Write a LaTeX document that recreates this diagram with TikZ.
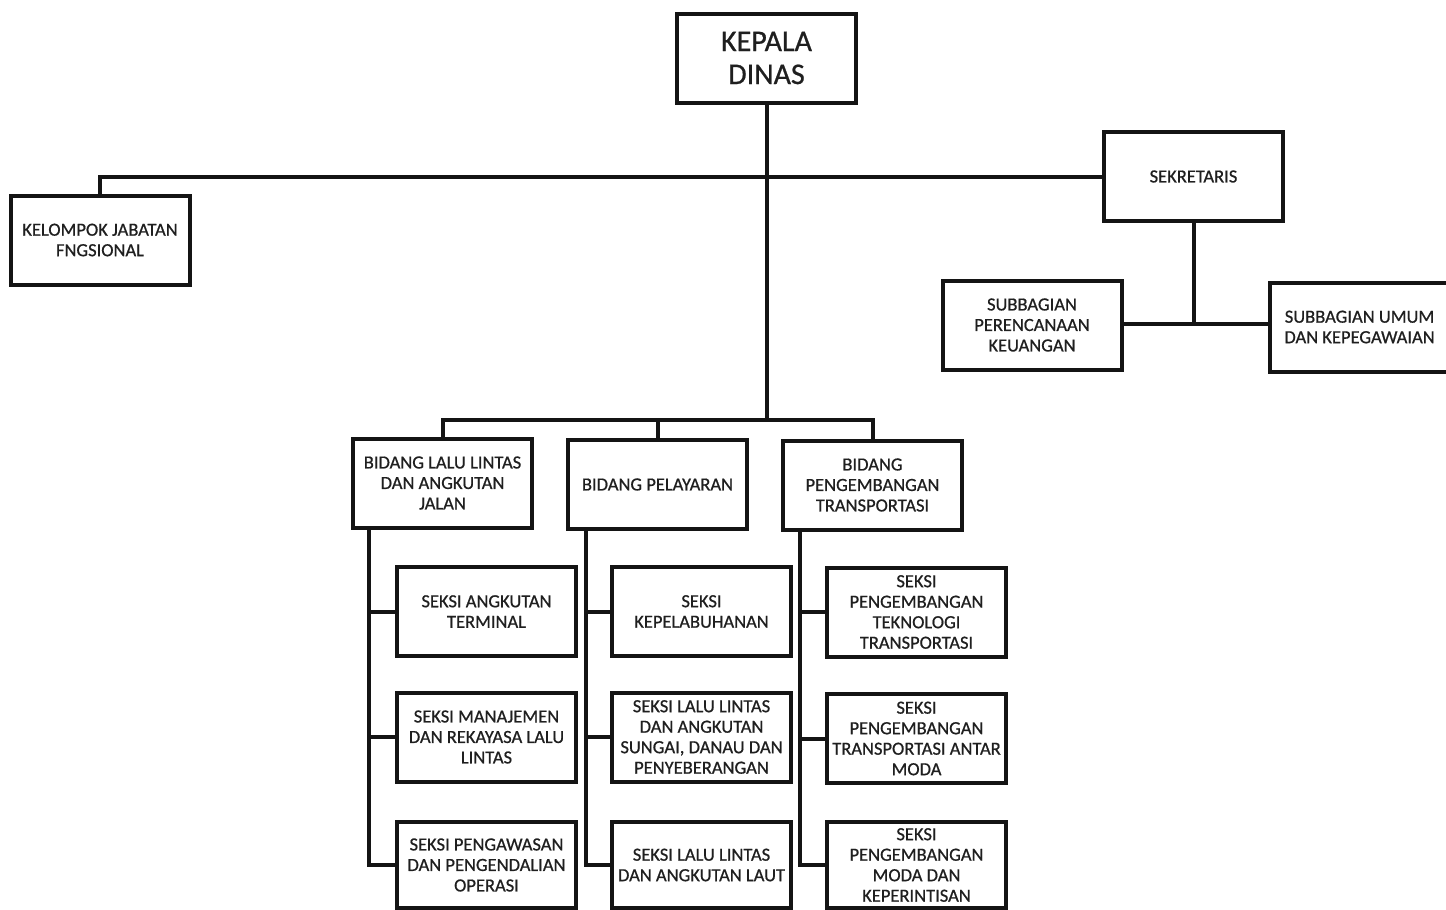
\documentclass[tikz,border=0pt]{standalone}
\usepackage{fontspec}
\setmainfont{Carlito}[FakeBold=0.7]
\begin{document}
\begin{tikzpicture}[x=1pt,y=-1pt,
  unit/.style={draw=black!92, line width=4pt, fill=white, align=center,
    minimum width=179pt, minimum height=89pt, inner xsep=0pt, inner ysep=2pt,
    text=black!88, font=\fontsize{18.5}{20.5}\selectfont},
  chief/.style={unit, font=\fontsize{30}{33}\selectfont},
  link/.style={draw=black!92, line width=4pt}]
\useasboundingbox (0,0) rectangle (1446,910);

% top level
\node[chief] (kep) at (766.5,58) {KEPALA\\DINAS};
\node[unit] (kel) at (100,240) {KELOMPOK JABATAN\\FNGSIONAL};
\node[unit] (sek) at (1193.5,176.5) {SEKRETARIS};
\node[unit] (spk) at (1032,325) {SUBBAGIAN\\PERENCANAAN\\KEUANGAN};
\node[unit] (sum) at (1359.5,327) {SUBBAGIAN UMUM\\DAN KEPEGAWAIAN};

% bidang
\node[unit] (b1) at (442.5,483) {BIDANG LALU LINTAS\\DAN ANGKUTAN\\JALAN};
\node[unit] (b2) at (657.5,484.5) {BIDANG PELAYARAN};
\node[unit] (b3) at (872.5,485) {BIDANG\\PENGEMBANGAN\\TRANSPORTASI};

% seksi
\node[unit] (s11) at (486.5,611.5) {SEKSI ANGKUTAN\\TERMINAL};
\node[unit] (s12) at (486.5,737) {SEKSI MANAJEMEN\\DAN REKAYASA LALU\\LINTAS};
\node[unit, minimum height=86pt] (s13) at (486.5,865) {SEKSI PENGAWASAN\\DAN PENGENDALIAN\\OPERASI};
\node[unit] (s21) at (701.5,611.5) {SEKSI\\KEPELABUHANAN};
\node[unit] (s22) at (701.5,737) {SEKSI LALU LINTAS\\DAN ANGKUTAN\\SUNGAI, DANAU DAN\\PENYEBERANGAN};
\node[unit, minimum height=86pt] (s23) at (701.5,865) {SEKSI LALU LINTAS\\DAN ANGKUTAN LAUT};
\node[unit] (s31) at (916.5,612) {SEKSI\\PENGEMBANGAN\\TEKNOLOGI\\TRANSPORTASI};
\node[unit] (s32) at (916.5,738.5) {SEKSI\\PENGEMBANGAN\\TRANSPORTASI ANTAR\\MODA};
\node[unit, minimum height=86pt] (s33) at (916.5,865) {SEKSI\\PENGEMBANGAN\\MODA DAN\\KEPERINTISAN};

% junction points
\coordinate (bj) at (766.5,420);
\coordinate (sj) at (1193.5,324);

% connectors
\draw[link] (kel.north) |- (sek.west);
\draw[link] (kep.south) -- (bj);
\draw[link] (b1.north) |- (bj) -| (b3.north);
\draw[link] (b2.north) -- (b2.north |- bj);
\draw[link] (sek.south) -- (sj);
\draw[link] (spk.east |- sj) -- (sum.west |- sj);

\draw[link] ([xshift=18pt]b1.south west) |- (s13.west);
\draw[link] (s11.west) -- ++(-26,0);
\draw[link] (s12.west) -- ++(-26,0);
\draw[link] ([xshift=20pt]b2.south west) |- (s23.west);
\draw[link] (s21.west) -- ++(-24,0);
\draw[link] (s22.west) -- ++(-24,0);
\draw[link] ([xshift=19pt]b3.south west) |- (s33.west);
\draw[link] (s31.west) -- ++(-25,0);
\draw[link] (s32.west) -- ++(-25,0);
\end{tikzpicture}
\end{document}
